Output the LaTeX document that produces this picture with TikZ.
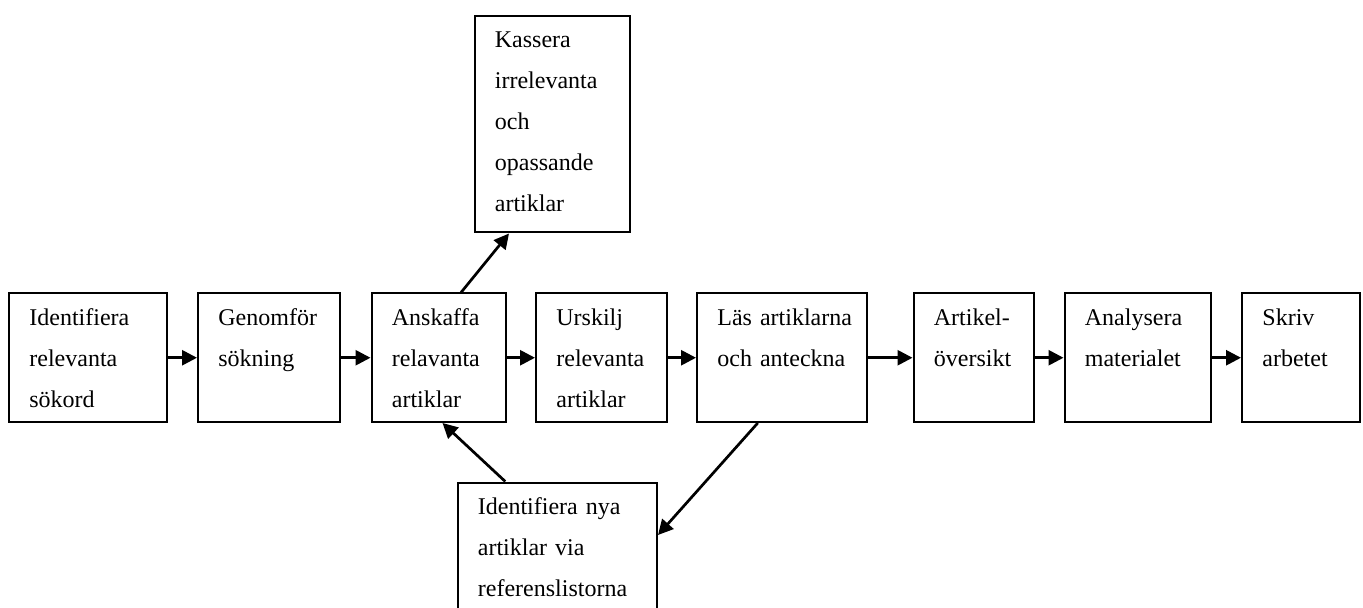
\documentclass[tikz,border=0pt]{standalone}
\usepackage{fontspec}
\setmainfont{Liberation Serif}
\usetikzlibrary{arrows.meta,calc}
\tikzset{
  box/.style={draw, line width=1pt, anchor=north west, inner sep=0pt},
  txt/.style={anchor=base west, inner sep=0pt, text width=120pt, align=left, font=\fontsize{12}{20.5}\selectfont},
  arr/.style={line width=1.35pt, -{Triangle[length=7.5pt,width=7.5pt]}}
}
\newcommand\mkbox[6]{%
  \node[box, minimum width={(#4-#2)*0.5pt}, minimum height={(#5-#3)*0.5pt}] (#1) at (#2,#3) {};
  \node[txt] (#1t) at ($(#1.north west)+(21,33)$) {#6};
}
\begin{document}
\begin{tikzpicture}[x=0.5pt,y=-0.5pt]
\clip (0,0) rectangle (1363,608);
\fill[white] (0,0) rectangle (1363,608);
\mkbox{b1}{8}{292.5}{165.5}{421}{Identifiera\\relevanta\\sökord}
\mkbox{b2}{197}{292.5}{339}{421}{Genomför\\sökning}
\mkbox{b3}{370.5}{292.5}{504.5}{421}{Anskaffa\\relavanta\\artiklar}
\mkbox{b4}{535}{292.5}{665.5}{421}{Urskilj\\relevanta\\artiklar}
\mkbox{b5}{696}{292.5}{865.5}{421}{Läs artiklarna\\och anteckna}
\mkbox{b6}{912.5}{292.5}{1032.5}{421}{Artikel-\\översikt}
\mkbox{b7}{1063.5}{292.5}{1210}{421}{Analysera\\materialet}
\mkbox{b8}{1241}{292.5}{1359}{421}{Skriv\\arbetet}
\mkbox{kas}{473.5}{15}{628.5}{231.5}{Kassera\\irrelevanta\\och\\opassande\\artiklar}
\mkbox{nya}{456.5}{481.5}{656}{640}{Identifiera nya\\artiklar via\\referenslistorna}
\draw[arr] (b1.east) -- (b2.west);
\draw[arr] (b2.east) -- (b3.west);
\draw[arr] (b3.east) -- (b4.west);
\draw[arr] (b4.east) -- (b5.west);
\draw[arr] (b5.east) -- (b6.west);
\draw[arr] (b6.east) -- (b7.west);
\draw[arr] (b7.east) -- (b8.west);
\coordinate (k1) at ($(b3.north)+(22.5,0)$);
\coordinate (k2) at ($(kas.south)+(-43,0)$);
\draw[arr] (k1) -- (k2);
\coordinate (n1) at ($(nya.north)+(-52,0)$);
\coordinate (n2) at ($(b3.south)+(4,0)$);
\draw[arr] (n1) -- (n2);
\coordinate (l1) at ($(b5.south)+(-24,0)$);
\coordinate (l2) at ($(nya.north east)+(0,53.5)$);
\draw[arr] (l1) -- (l2);
\end{tikzpicture}
\end{document}
